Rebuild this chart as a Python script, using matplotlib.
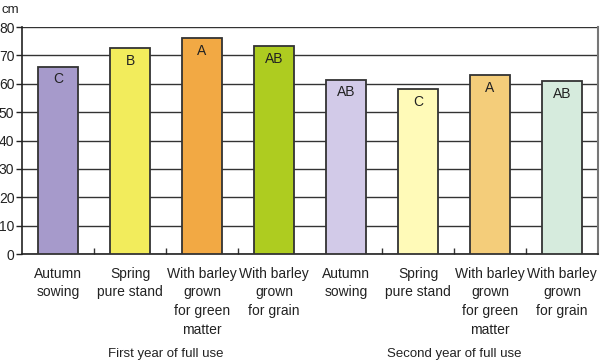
import matplotlib
matplotlib.use("Agg")
import matplotlib.pyplot as plt

categories = ["Autumn\nsowing", "Spring\npure stand", "With barley\ngrown\nfor green\nmatter",
              "With barley\ngrown\nfor grain",
              "Autumn\nsowing", "Spring\npure stand", "With barley\ngrown\nfor green\nmatter",
              "With barley\ngrown\nfor grain"]
values = [66, 72.5, 76, 73.3, 61.5, 58, 63, 61]
letters = ["C", "B", "A", "AB", "AB", "C", "A", "AB"]
colors = ["#A69ACB", "#F2EC5C", "#F2A944", "#AECC20", "#D2CAE8", "#FFFAB8", "#F4CD7A", "#D6EBDD"]
groups = ["First year of full use", "Second year of full use"]
yticks = [0, 10, 20, 30, 40, 50, 60, 70, 80]

plt.rcParams['font.family'] = ['Liberation Sans', 'DejaVu Sans']

fig = plt.figure(figsize=(6.0, 3.62), dpi=100)
ax = fig.add_axes([0.0367, 0.2983, 0.96, 0.6271])

x = list(range(len(values)))
ax.bar(x, values, width=0.556, color=colors, edgecolor="#333333", linewidth=1.3, zorder=3)
for xi, v, t in zip(x, values, letters):
    ax.text(xi, v - 2.0, t, ha="center", va="top", fontsize=10, color="#222222", zorder=4)

ax.set_xlim(-0.5, 7.5)
ax.set_ylim(0, 80)
ax.set_yticks(yticks)
ax.yaxis.grid(True, color="#333333", linewidth=1.0, zorder=1)
ax.set_axisbelow(True)
ax.tick_params(axis="y", direction="out", length=4, width=1, labelsize=10, pad=1.5, colors="#222222")

ax.set_xticks(x)
ax.set_xticklabels(categories, fontsize=10, linespacing=1.45)
ax.tick_params(axis="x", length=0, pad=9, colors="#222222")
ax.set_xticks([0.5, 1.5, 2.5, 4.5, 5.5, 6.5], minor=True)
ax.tick_params(axis="x", which="minor", direction="in", length=4, width=1, color="#333333")

for s in ["left", "bottom"]:
    ax.spines[s].set_color("#222222")
    ax.spines[s].set_linewidth(1.2)
ax.spines["top"].set_visible(False)
ax.spines["right"].set_color("#777777")
ax.spines["right"].set_linewidth(1.5)

ax.text(1.5, -0.44, groups[0], transform=ax.get_xaxis_transform(), ha="center", va="center", fontsize=9.5, color="#222222")
ax.text(5.5, -0.44, groups[1], transform=ax.get_xaxis_transform(), ha="center", va="center", fontsize=9.5, color="#222222")
fig.text(0.002, 0.972, "cm", ha="left", va="center", fontsize=9.5, color="#222222")

fig.savefig("out.png", dpi=100)
